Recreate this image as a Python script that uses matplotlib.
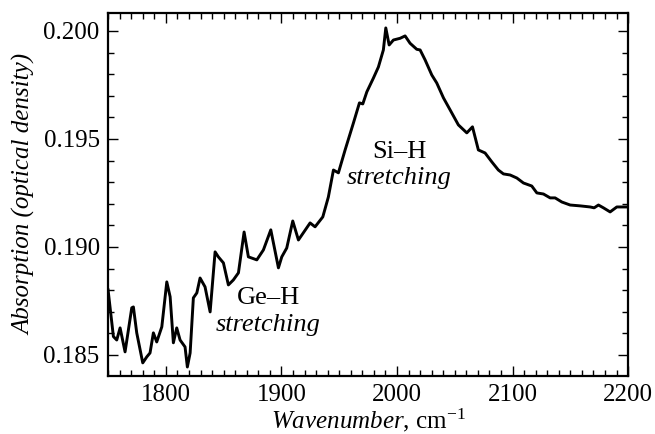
import matplotlib
matplotlib.use('Agg')
import matplotlib.pyplot as plt
from matplotlib.ticker import MultipleLocator, FormatStrFormatter

plt.rcParams['font.family'] = 'Liberation Serif'
plt.rcParams['mathtext.fontset'] = 'custom'
plt.rcParams['mathtext.rm'] = 'Liberation Serif'
plt.rcParams['mathtext.it'] = 'Liberation Serif:italic'

# IR spectrum
wavenumber = [1750, 1754.6, 1757.5, 1760.4, 1764.7, 1770.5, 1771.9, 1774.8, 1780.0,
              1783.5, 1786.3, 1789.2, 1792.1, 1796.5, 1800.8, 1803.7, 1806.5, 1809.4,
              1812.3, 1816.6, 1818.6, 1821.0, 1823.8, 1826.8, 1829.6, 1833.9, 1838.3,
              1842.6, 1845.4, 1849.8, 1854.1, 1858.4, 1862.8, 1867.7, 1871.4, 1878.7,
              1884.4, 1890.8, 1897.4, 1900.3, 1904.6, 1909.8, 1914.7, 1924.8, 1929.1,
              1935.8, 1940.6, 1945.0, 1949.3, 1955.1, 1962.3, 1967.5, 1970.4, 1973.9,
              1979.6, 1983.9, 1988.2, 1990.3, 1993.2, 1996.9, 2002.7, 2007.0, 2011.3,
              2017.1, 2020.0, 2024.3, 2030.1, 2034.4, 2040.2, 2046.0, 2053.1, 2060.4,
              2065.3, 2070.4, 2076.2, 2082.0, 2087.7, 2092.1, 2097.9, 2103.7, 2109.4,
              2116.6, 2121.0, 2126.7, 2132.5, 2136.8, 2142.6, 2149.8, 2158.5, 2167.1,
              2170.6, 2174.3, 2178.6, 2184.4, 2190.2, 2194.5, 2200]
absorption = [0.18801, 0.18585, 0.18569, 0.18625, 0.18514, 0.18718, 0.18722, 0.18602, 0.18463,
              0.18491, 0.18509, 0.18602, 0.18560, 0.18630, 0.18838, 0.18769, 0.18556, 0.18625,
              0.18569, 0.18537, 0.18444, 0.18509, 0.18764, 0.18787, 0.18856, 0.18815, 0.18699,
              0.18977, 0.18954, 0.18926, 0.18824, 0.18847, 0.18880, 0.19069, 0.18954, 0.18940,
              0.18986, 0.19079, 0.18903, 0.18954, 0.18995, 0.19120, 0.19032, 0.19111, 0.19093,
              0.19139, 0.19231, 0.19356, 0.19343, 0.19449, 0.19574, 0.19667, 0.19662, 0.19718,
              0.19782, 0.19833, 0.19912, 0.20014, 0.19935, 0.19958, 0.19966, 0.19977, 0.19943,
              0.19915, 0.19912, 0.19866, 0.19796, 0.19759, 0.19690, 0.19634, 0.19565, 0.19528,
              0.19556, 0.19449, 0.19435, 0.19394, 0.19356, 0.19338, 0.19333, 0.19319, 0.19296,
              0.19282, 0.19250, 0.19245, 0.19227, 0.19227, 0.19208, 0.19194, 0.19190, 0.19185,
              0.19181, 0.19194, 0.19181, 0.19162, 0.19185, 0.19185, 0.19185]

fig = plt.figure(figsize=(6.55, 4.34), dpi=100)
ax = fig.add_axes([0.165, 0.134, 0.794, 0.836])
ax.plot(wavenumber, absorption, color='black', lw=2.1)

ax.set_xlim(1750, 2200)
ax.set_ylim(0.18403, 0.20083)
ax.xaxis.set_major_locator(MultipleLocator(100))
ax.xaxis.set_minor_locator(MultipleLocator(10))
ax.yaxis.set_major_locator(MultipleLocator(0.005))
ax.yaxis.set_minor_locator(MultipleLocator(0.001))
ax.yaxis.set_major_formatter(FormatStrFormatter('%.3f'))
ax.tick_params(which='both', direction='in', top=True, right=True, labelsize=18, width=1)
ax.tick_params(which='major', length=7, pad=6)
ax.tick_params(which='minor', length=4)
for s in ax.spines.values():
    s.set_linewidth(1.6)

ax.set_xlabel(r'$\mathit{Wavenumber}$, cm$^{-1}$', fontsize=18, labelpad=0)
ax.set_ylabel('Absorption (optical density)', fontsize=18, style='italic', labelpad=5)

ax.text(2002, 0.19440, 'Si–H', fontsize=19, ha='center', va='center')
ax.text(2002, 0.19319, 'stretching', fontsize=19, style='italic', ha='center', va='center')
ax.text(1888.5, 0.18764, 'Ge–H', fontsize=19, ha='center', va='center')
ax.text(1888.5, 0.18639, 'stretching', fontsize=19, style='italic', ha='center', va='center')

fig.savefig('out.png', dpi=100)
